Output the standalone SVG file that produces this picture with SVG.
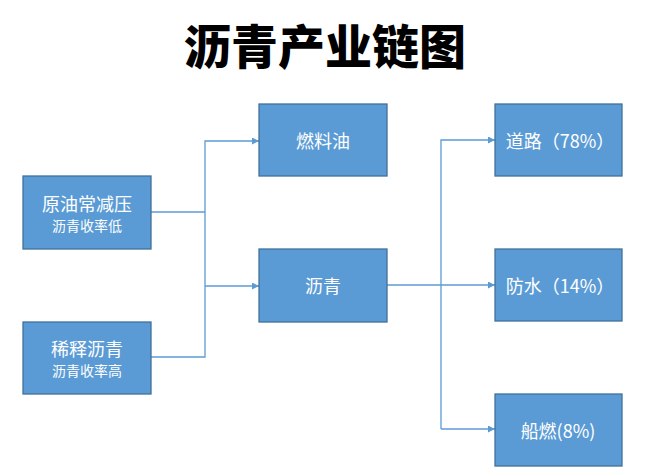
<svg xmlns="http://www.w3.org/2000/svg" width="647" height="476" viewBox="0 0 647 476">
<defs>
<style>
.box{fill:#5b9bd5;stroke:#41719c;stroke-width:1.3}
.t{fill:#fff;font-family:"Noto Sans CJK SC","Liberation Sans",sans-serif;font-size:18px;text-anchor:middle;dominant-baseline:central}
.s{font-size:14px}
.ln{fill:none;stroke:#5b9bd5;stroke-width:1.3}
.title{font-family:"Noto Sans CJK SC",sans-serif;font-weight:900;font-size:47px;text-anchor:middle;fill:#000}
</style>
<marker id="ar" viewBox="0 0 10 10" refX="10" refY="5" markerWidth="7" markerHeight="7" markerUnits="userSpaceOnUse" orient="auto">
<path d="M0,0 L10,5 L0,10 z" fill="#5b9bd5"/>
</marker>
</defs>
<rect width="647" height="476" fill="#fff"/>
<text class="title" x="325" y="64">沥青产业链图</text>
<g id="connectors">
<path class="ln" d="M151,212 H205"/>
<path class="ln" d="M151,357 H205 V141 H259" marker-end="url(#ar)"/>
<path class="ln" d="M205,286 H259" marker-end="url(#ar)"/>
<path class="ln" d="M387,285 H495" marker-end="url(#ar)"/>
<path class="ln" d="M441,429 V140 H495" marker-end="url(#ar)"/>
<path class="ln" d="M441,429 H495" marker-end="url(#ar)"/>
</g>
<g id="n1"><rect class="box" x="23" y="176" width="128" height="73"/><text class="t" x="87" y="203">原油常减压</text><text class="t s" x="87" y="225">沥青收率低</text></g>
<g id="n2"><rect class="box" x="23" y="322" width="128" height="72"/><text class="t" x="87" y="348">稀释沥青</text><text class="t s" x="87" y="370">沥青收率高</text></g>
<g id="n3"><rect class="box" x="259" y="104" width="128" height="72"/><text class="t" x="323" y="140">燃料油</text></g>
<g id="n4"><rect class="box" x="259" y="249" width="128" height="73"/><text class="t" x="323" y="285">沥青</text></g>
<g id="n5"><rect class="box" x="495" y="104" width="127" height="72"/><text class="t" x="560" y="140">道路（78%）</text></g>
<g id="n6"><rect class="box" x="495" y="249" width="127" height="72"/><text class="t" x="560" y="285">防水（14%）</text></g>
<g id="n7"><rect class="box" x="495" y="394" width="127" height="72"/><text class="t" x="558" y="430">船燃(8%)</text></g>
</svg>
